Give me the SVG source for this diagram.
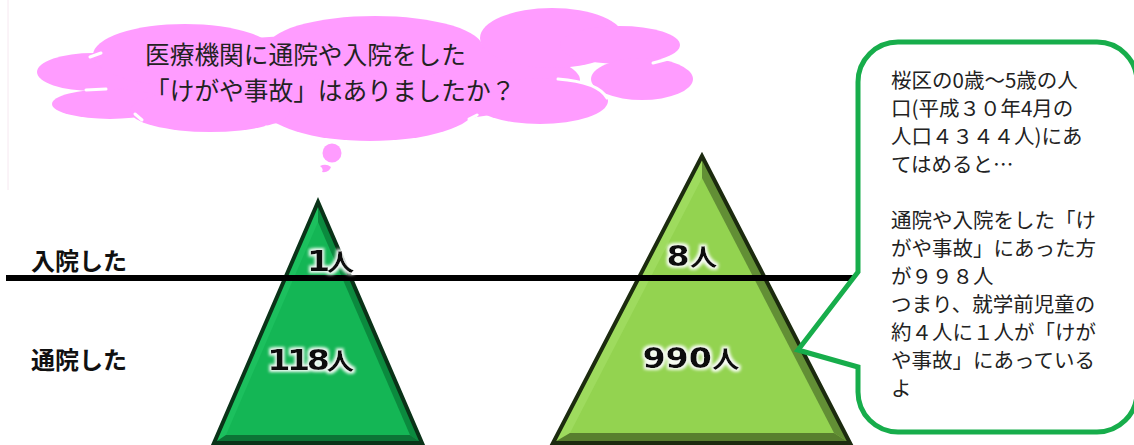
<svg xmlns="http://www.w3.org/2000/svg" width="1134" height="445" viewBox="0 0 1134 445">
<style>
.cloud{fill:#ff9cff}
.gap{fill:none;stroke:#ffffff;stroke-width:3;stroke-linecap:round}
.q{font-family:"Noto Sans CJK JP","Noto Sans",sans-serif;font-size:24.7px;fill:#222222}
.side{font-family:"Noto Sans CJK JP","Noto Sans",sans-serif;font-size:24px;font-weight:bold;fill:#111111}
.lbl{font-family:"DejaVu Sans","Noto Sans CJK JP",sans-serif;font-size:29px;font-weight:bold;fill:#111111;text-anchor:middle}
.jp{font-family:"Noto Sans CJK JP",sans-serif;font-size:24px;font-weight:bold}
.note{font-family:"Noto Sans CJK JP","Noto Sans",sans-serif;font-size:20.5px;fill:#222222}
</style>
<defs>
<filter id="glow" x="-20%" y="-40%" width="140%" height="180%">
<feMorphology in="SourceAlpha" operator="dilate" radius="1.5" result="d"/>
<feGaussianBlur in="d" stdDeviation="1.6" result="b"/>
<feFlood flood-color="#ffffff" flood-opacity="0.95"/>
<feComposite in2="b" operator="in" result="g"/>
<feMerge><feMergeNode in="g"/><feMergeNode in="SourceGraphic"/></feMerge>
</filter>
</defs>
<rect width="1134" height="445" fill="#ffffff"/>
<line x1="8" y1="0" x2="8" y2="190" stroke="#f6e8f0" stroke-width="1"/>

<g id="cloud">
<ellipse class="cloud" cx="340" cy="80" rx="240" ry="45"/>
<ellipse class="cloud" cx="93" cy="72" rx="56" ry="19"/>
<ellipse class="cloud" cx="110" cy="104" rx="58" ry="15"/>
<ellipse class="cloud" cx="185" cy="55" rx="92" ry="31"/>
<ellipse class="cloud" cx="375" cy="48" rx="108" ry="32"/>
<ellipse class="cloud" cx="552" cy="38" rx="72" ry="30"/>
<ellipse class="cloud" cx="620" cy="45" rx="60" ry="19"/>
<ellipse class="cloud" cx="642" cy="79" rx="51" ry="21"/>
<ellipse class="cloud" cx="540" cy="101" rx="68" ry="23"/>
<ellipse class="cloud" cx="370" cy="108" rx="105" ry="33"/>
<ellipse class="cloud" cx="210" cy="111" rx="80" ry="21"/>
<path class="gap" d="M90 57 L101 53"/>
<path class="gap" d="M86 90 L106 89"/>
<path class="gap" d="M135 114 L142 120"/>
<path class="gap" d="M266 127 L280 131"/>
<path class="gap" d="M262 22 L276 27"/>
<path class="gap" d="M478 15 L492 17"/>
<path class="gap" d="M558 79 Q598 82 607 98"/>
<path class="gap" d="M653 63 L676 57"/>
<path class="gap" d="M469 119 L477 115"/>
<circle class="cloud" cx="332" cy="153" r="9.5"/>
<path class="cloud" d="M320 166 Q326 163 331 167 Q329 173 322 172 Q324 169 320 166 Z"/>
<text class="q" x="145" y="64">医療機関に通院や入院をした</text>
<text class="q" x="145" y="100">「けがや事故」はありましたか？</text>
</g>

<g id="tri-left">
<polygon points="318,202 214,443 422,443" fill="#14b655"/>
<polygon points="318,202 214,443 226,435 318,222" fill="#1cc05e"/>
<polygon points="318,202 422,443 410,435 318,222" fill="#0b8a3e"/>
<polygon points="214,443 422,443 410,435 226,435" fill="#0c7436"/>
<polygon points="318,202 214,443 422,443" fill="none" stroke="#0a3318" stroke-width="4"/>
</g>

<g id="tri-right">
<polygon points="702,156 553,443 850,443" fill="#93d350"/>
<polygon points="702,156 553,443 570,433 702,178" fill="#9edb5e"/>
<polygon points="702,156 850,443 834,433 702,178" fill="#628f35"/>
<polygon points="553,443 850,443 834,433 570,433" fill="#587f2e"/>
<polygon points="702,156 553,443 850,443" fill="none" stroke="#1c2b0f" stroke-width="4"/>
</g>

<g id="connectors">
<line x1="6" y1="278" x2="858" y2="278" stroke="#000000" stroke-width="6"/>
</g>

<g id="side-labels">
<text class="side" x="31" y="270">入院した</text>
<text class="side" x="31" y="369">通院した</text>
</g>

<g id="tri-labels" filter="url(#glow)">
<text class="lbl" transform="translate(329,271) scale(1.15,1)" letter-spacing="-3">1<tspan class="jp">人</tspan></text>
<text class="lbl" transform="translate(309,370) scale(1.15,1)" letter-spacing="-3">118<tspan class="jp">人</tspan></text>
<text class="lbl" transform="translate(692,266) scale(1.15,1)">8<tspan class="jp">人</tspan></text>
<text class="lbl" transform="translate(691,368) scale(1.15,1)">990<tspan class="jp">人</tspan></text>
</g>

<g id="callout">
<path d="M858 272 L858 82 A40 40 0 0 1 898 42 L1097 42 A40 40 0 0 1 1137 82 L1137 392 A40 40 0 0 1 1097 432 L898 432 A40 40 0 0 1 858 392 L858 367 L798 350 Z" fill="#ffffff" stroke="#17ad4b" stroke-width="5"/>
<text class="note" x="891" y="88">桜区の0歳～5歳の人</text>
<text class="note" x="891" y="116">口(平成３０年4月の</text>
<text class="note" x="891" y="144">人口４３４４人)にあ</text>
<text class="note" x="891" y="172">てはめると…</text>
<text class="note" x="891" y="228">通院や入院をした「け</text>
<text class="note" x="891" y="256">がや事故」にあった方</text>
<text class="note" x="891" y="284">が９９８人</text>
<text class="note" x="891" y="312">つまり、就学前児童の</text>
<text class="note" x="891" y="340">約４人に１人が「けが</text>
<text class="note" x="891" y="368">や事故」にあっている</text>
<text class="note" x="891" y="396">よ</text>
</g>
</svg>
